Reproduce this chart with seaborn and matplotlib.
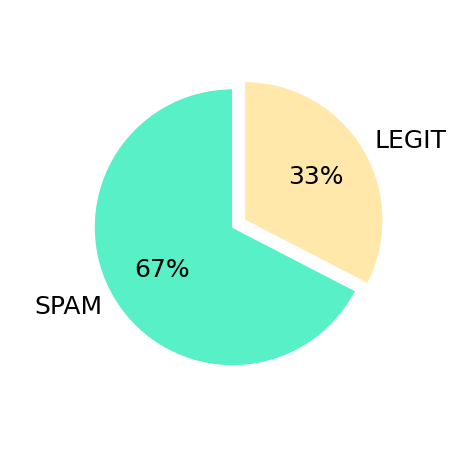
import matplotlib
matplotlib.use("Agg")
import matplotlib.pyplot as plt
import seaborn as sns

# data
labels = ["LEGIT", "SPAM"]
counts = [163, 337]
colors = ["#FFE8A9", "#58F0C6"]
explode = [0.1, 0]

sns.set_style("white")
plt.rcParams["font.family"] = ["DejaVu Sans"]
plt.rcParams["text.color"] = "black"

fig, ax = plt.subplots(figsize=(4.54, 4.5), dpi=100)

ax.pie(
    counts,
    labels=labels,
    colors=sns.color_palette(colors),
    explode=explode,
    autopct="%1.0f%%",
    startangle=90,
    counterclock=False,
    textprops={"fontsize": 18, "color": "black"},
)

fig.savefig("out.png", dpi=100)
